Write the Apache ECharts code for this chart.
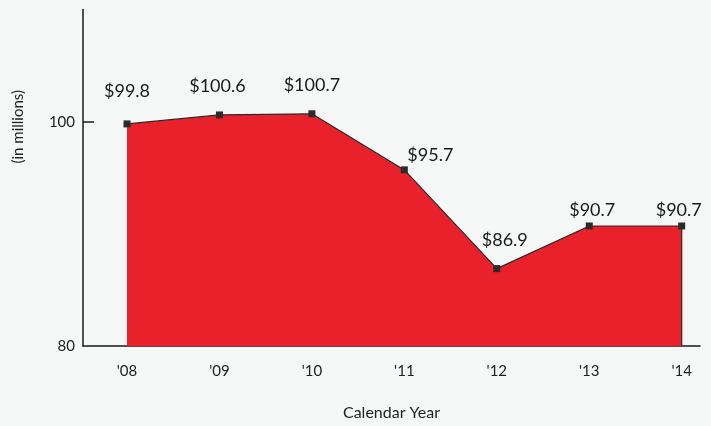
<!DOCTYPE html>
<html>
<head>
<meta charset="utf-8">
<script src="https://cdn.jsdelivr.net/npm/echarts@6/dist/echarts.min.js"></script>
<style>
html,body{margin:0;padding:0;background:#f6f7f7;}
#c{width:711px;height:426px;}
</style>
</head>
<body>
<div id="c"></div>
<script>
var categories = ["'08", "'09", "'10", "'11", "'12", "'13", "'14"];
var values = [99.8, 100.6, 100.7, 95.7, 86.9, 90.7, 90.7];
var yTicks = [80, 100];

var labelOffsets = [[0,-8],[-2,-4],[0,-4],[26,10],[8,-4],[3,9],[-3,9]];

var chart = echarts.init(document.getElementById('c'));
var FONT = 'Lato, "Open Sans", sans-serif';
var data = values.map(function(v, i){
  return {
    value: [i, v],
    label: { offset: labelOffsets[i] }
  };
});
var lastIdx = values.length - 1;

chart.setOption({
  backgroundColor: '#f6f7f7',
  animation: false,
  grid: { left: 83, right: 11, top: 9.5, bottom: 79, containLabel: false },
  xAxis: {
    type: 'value',
    min: -0.476,
    max: 6.198,
    axisLine: { show: true, onZero: false, lineStyle: { color: '#1a1a1a', width: 1.5 } },
    axisTick: { show: false },
    splitLine: { show: false },
    axisLabel: {
      customValues: categories.map(function(c, i){ return i; }),
      formatter: function(v){ return categories[Math.round(v)]; },
      color: '#222', fontSize: 15, fontFamily: FONT, margin: 18
    },
    name: 'Calendar Year',
    nameLocation: 'middle',
    nameGap: 59,
    nameTextStyle: { color: '#222', fontSize: 16, fontFamily: FONT }
  },
  yAxis: {
    type: 'value',
    min: 80,
    max: 110,
    axisLine: { show: true, onZero: false, lineStyle: { color: '#1a1a1a', width: 1.5 } },
    axisTick: { show: true, inside: true, length: 11, customValues: [100], lineStyle: { color: '#1a1a1a', width: 1.5 } },
    splitLine: { show: false },
    axisLabel: {
      customValues: yTicks,
      color: '#222', fontSize: 15, fontFamily: FONT, margin: 8
    },
    name: '(in millions)',
    nameLocation: 'middle',
    nameRotate: 90,
    nameGap: 57,
    nameTextStyle: { color: '#222', fontSize: 15, fontFamily: FONT, padding: [0,0,0,102] }
  },
  series: [
    {
      type: 'line',
      data: data,
      symbol: 'rect',
      symbolSize: 7,
      itemStyle: { color: '#2b2b2b' },
      lineStyle: { color: '#2b2b2b', width: 1.2 },
      areaStyle: { color: '#e8212a', opacity: 1, origin: 'start' },
      label: {
        show: true,
        position: 'top',
        distance: 12,
        formatter: function(p){ return '$' + p.value[1].toFixed(1); },
        color: '#1a1a1a', fontSize: 18, fontFamily: FONT
      },
      z: 2
    },
    {
      type: 'line',
      data: [[lastIdx, 80], [lastIdx, values[lastIdx]]],
      symbol: 'none',
      lineStyle: { color: '#2b2b2b', width: 1.2 },
      silent: true,
      z: 3
    }
  ]
});
</script>
</body>
</html>
